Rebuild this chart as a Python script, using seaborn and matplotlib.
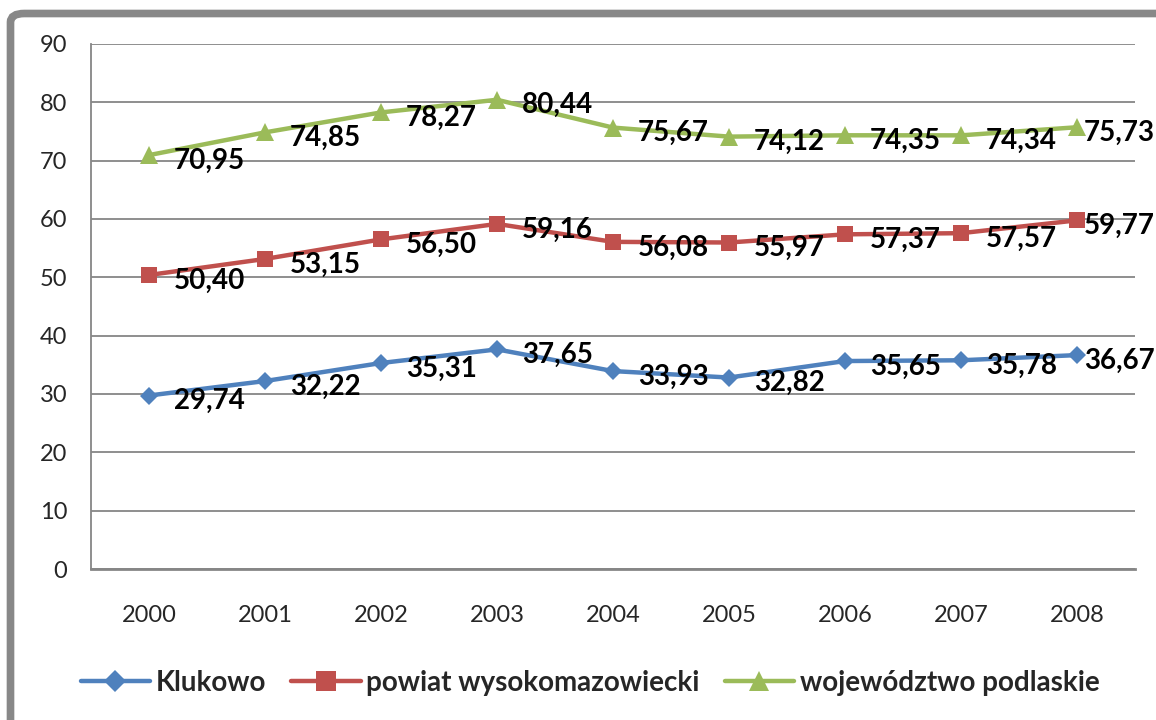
import matplotlib
matplotlib.use('Agg')
import matplotlib.pyplot as plt
from matplotlib.patches import FancyBboxPatch
import pandas as pd
import seaborn as sns

lata = [2000, 2001, 2002, 2003, 2004, 2005, 2006, 2007, 2008]
klukowo = [29.74, 32.22, 35.31, 37.65, 33.93, 32.82, 35.65, 35.78, 36.67]
powiat = [50.40, 53.15, 56.50, 59.16, 56.08, 55.97, 57.37, 57.57, 59.77]
wojewodztwo = [70.95, 74.85, 78.27, 80.44, 75.67, 74.12, 74.35, 74.34, 75.73]
serie = ['Klukowo', 'powiat wysokomazowiecki', 'województwo podlaskie']
y_ticks = [0, 10, 20, 30, 40, 50, 60, 70, 80, 90]

df = pd.DataFrame({
    'rok': lata * 3,
    'wartosc': klukowo + powiat + wojewodztwo,
    'seria': [serie[0]] * 9 + [serie[1]] * 9 + [serie[2]] * 9,
})

kolory = {serie[0]: '#4F81BD', serie[1]: '#C0504D', serie[2]: '#9BBB59'}
markery = {serie[0]: 'D', serie[1]: 's', serie[2]: '^'}
rozmiary = {'D': 9, 's': 12, '^': 13}

sns.set_style('white')
plt.rcParams['font.family'] = ['Lato', 'DejaVu Sans']

fig = plt.figure(figsize=(11.56, 7.2), dpi=100)
ax = fig.add_axes([91 / 1156, 1 - 569 / 720, (1135 - 91) / 1156, (569 - 44) / 720])

# grey frame around the chart (only top/left visible)
frame = FancyBboxPatch((10.5 / 1156, -0.1), 1.2, 1 - 13.5 / 720 + 0.1,
                       boxstyle='round,pad=0,rounding_size=0.012',
                       transform=fig.transFigure, fill=False,
                       edgecolor='#888888', linewidth=5.5, zorder=0)
fig.patches.append(frame)

sns.lineplot(data=df, x='rok', y='wartosc', hue='seria', style='seria',
             palette=kolory, markers=markery, dashes=False, linewidth=3.2,
             markeredgewidth=0, ax=ax, legend=True)
for line, s in zip(ax.lines, serie):
    line.set_markersize(rozmiary[markery[s]])

for vals in (klukowo, powiat, wojewodztwo):
    for x, v in zip(lata, vals):
        dx = 18 if x != lata[-1] else 5
        ax.annotate(f'{v:.2f}'.replace('.', ','), (x, v), xytext=(dx, -4),
                    textcoords='offset points', ha='left', va='center',
                    fontsize=20, fontweight='bold', color='black',
                    annotation_clip=False)

ax.set_xlim(1999.5, 2008.5)
ax.set_ylim(0, 90)
ax.set_yticks(y_ticks)
ax.set_xticks(lata)
ax.set_xticks([l - 0.5 for l in lata] + [2008.5], minor=True)
ax.tick_params(axis='x', which='major', length=0, pad=26, labelsize=17)
ax.tick_params(axis='x', which='minor', length=6, width=1.2, color='#868686', direction='out')
ax.tick_params(axis='y', length=7, width=1.2, color='#868686', direction='out', pad=10, labelsize=17)
ax.grid(axis='y', color='#868686', linewidth=1.3)
ax.set_axisbelow(True)
for side in ('top', 'right'):
    ax.spines[side].set_visible(False)
ax.spines['left'].set_color('#868686')
ax.spines['left'].set_linewidth(1.3)
ax.spines['bottom'].set_color('#868686')
ax.spines['bottom'].set_linewidth(2)
ax.set_xlabel('')
ax.set_ylabel('')

handles, labels = ax.get_legend_handles_labels()
leg = ax.legend(handles, labels, loc='center', bbox_to_anchor=(590 / 1156, 1 - 683 / 720),
                bbox_transform=fig.transFigure, ncol=3, frameon=False,
                prop={'size': 20, 'weight': 'bold'}, handlelength=2.5, columnspacing=0.9,
                handletextpad=0.2)
for h, s in zip(leg.legend_handles, serie):
    h.set_markersize(rozmiary[markery[s]] + 2)
    h.set_linewidth(3.2)

fig.savefig('out.png', dpi=100)
